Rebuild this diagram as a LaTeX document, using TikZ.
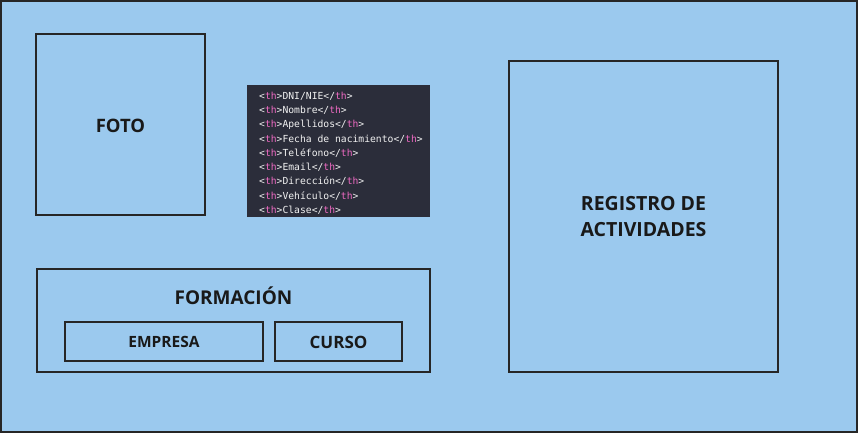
\documentclass[tikz,border=0pt]{standalone}
\usepackage{fontspec}
\setmainfont{Open Sans}
\newfontfamily\codefont{DejaVu Sans Mono}
\definecolor{bgblue}{HTML}{9BC9EE}
\definecolor{codebg}{HTML}{2B2D3A}
\definecolor{tagpink}{HTML}{F06BC4}
\definecolor{codewhite}{HTML}{F2F2F2}
\definecolor{edge}{HTML}{262626}
\newcommand{\thline}[1]{\textcolor{codewhite}{<}\textcolor{tagpink}{th}\textcolor{codewhite}{>#1</}\textcolor{tagpink}{th}\textcolor{codewhite}{>}}
\begin{document}
\begin{tikzpicture}[x=1pt,y=-1pt,
  boxed/.style={draw=edge,line width=1.3pt},
  lbl/.style={font=\bfseries, text=black!90, align=center},
  codeline/.style={anchor=west, inner sep=0pt, font=\codefont\fontsize{9.7}{11}\selectfont}]
\useasboundingbox (0,0) rectangle (858,433);
\draw[boxed, fill=bgblue] (1,1) rectangle (857,432);
\draw[boxed] (36,34) rectangle (205,215);
\node[lbl, font=\bfseries\fontsize{18.5}{22}\selectfont] (foto) at (120.5,126) {FOTO};
\fill[codebg] (247,85) rectangle (430,217);
\node[codeline] (l1) at (259,96.3) {\thline{DNI/NIE}};
\node[codeline] (l2) at (259,110.5) {\thline{Nombre}};
\node[codeline] (l3) at (259,124.7) {\thline{Apellidos}};
\node[codeline] (l4) at (259,138.9) {\thline{Fecha de nacimiento}};
\node[codeline] (l5) at (259,153.1) {\thline{Teléfono}};
\node[codeline] (l6) at (259,167.3) {\thline{Email}};
\node[codeline] (l7) at (259,181.5) {\thline{Dirección}};
\node[codeline] (l8) at (259,195.7) {\thline{Vehículo}};
\node[codeline] (l9) at (259,209.9) {\thline{Clase}};
\draw[boxed] (509,61) rectangle (778,372);
\node[lbl, font=\bfseries\fontsize{19.5}{26}\selectfont] (reg) at (643.5,217) {REGISTRO DE\\ACTIVIDADES};
\draw[boxed] (37,269) rectangle (430,372);
\node[lbl, font=\bfseries\fontsize{19}{22}\selectfont] (form) at (233.5,295.5) {FORMACIÓN};
\draw[boxed] (65,322) rectangle (263,361);
\node[lbl, font=\bfseries\fontsize{15.5}{18}\selectfont] (emp) at (164,342) {EMPRESA};
\draw[boxed] (275,322) rectangle (402,361);
\node[lbl, font=\bfseries\fontsize{17}{20}\selectfont] (cur) at (338.5,342) {CURSO};
\end{tikzpicture}
\end{document}
